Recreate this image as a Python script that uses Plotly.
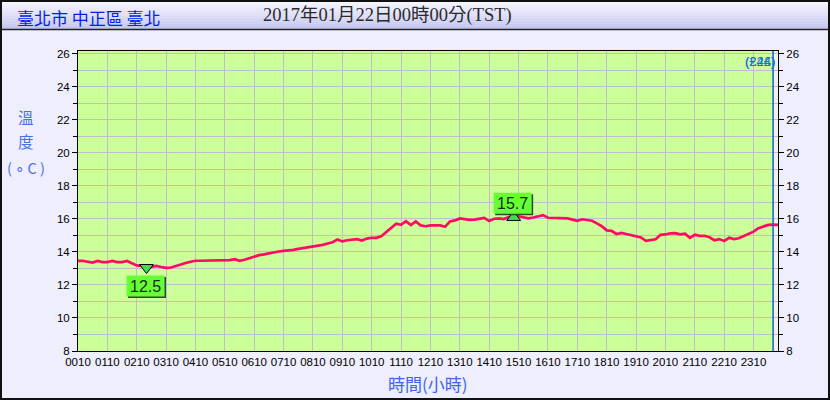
import plotly.graph_objects as go

# ---------------- data ----------------
station_title = "臺北市 中正區 臺北"
time_title = "2017年01月22日00時00分(TST)"
y_title_lines = ["溫", "度", "( ∘ C )"]
x_title = "時間(小時)"

# 10-minute observations 00:10 ... 24:00
minutes = list(range(10, 1441, 10))
temps = [
    13.45, 13.45, 13.40, 13.35, 13.45, 13.38,
    13.38, 13.45, 13.38, 13.38, 13.45, 13.30,
    13.18, 13.15, 13.05, 13.08, 13.15, 13.08,
    13.03, 13.05, 13.15, 13.25, 13.32, 13.40,
    13.46, 13.46, 13.46, 13.46, 13.46, 13.46,
    13.46, 13.50, 13.56, 13.46, 13.52, 13.62,
    13.70, 13.80, 13.85, 13.92, 13.96, 14.02,
    14.06, 14.08, 14.12, 14.18, 14.22, 14.28,
    14.32, 14.38, 14.42, 14.50, 14.58, 14.75,
    14.63, 14.70, 14.73, 14.77, 14.68, 14.80,
    14.85, 14.85, 14.95, 15.20, 15.45, 15.70,
    15.63, 15.85, 15.62, 15.84, 15.60, 15.55,
    15.60, 15.62, 15.60, 15.52, 15.84, 15.90,
    16.02, 15.98, 15.93, 15.95, 15.98, 16.05,
    15.86, 16.00, 16.02, 15.98, 16.10, 16.18,
    16.15, 16.08, 16.02, 16.08, 16.15, 16.22,
    16.06, 16.05, 16.05, 16.05, 16.02, 15.95,
    15.88, 15.97, 15.93, 15.88, 15.72, 15.55,
    15.30, 15.27, 15.08, 15.15, 15.08, 15.02,
    14.93, 14.87, 14.67, 14.73, 14.76, 15.03,
    15.05, 15.12, 15.13, 15.06, 15.10, 14.85,
    15.03, 14.97, 14.97, 14.88, 14.70, 14.77,
    14.65, 14.85, 14.77, 14.82, 14.95, 15.08,
    15.22, 15.43, 15.55, 15.63, 15.65, 15.63,
]
tick_labels = ["%02d10" % h for h in range(24)]
min_minute, min_label = 150, "12.5"   # 02:30
max_minute, max_label = 900, "15.7"   # 15:00
now_minute = 1430                     # 23:50 marker line
y_min, y_max = 8, 26.15

# ---------------- geometry helpers ----------------
W, H = 830, 400
L, R, T, B = 78, 778, 51, 351

def fx(p):
    return (p - L) / (R - L)

def fy(p):
    return (B - p) / (B - T)

hours = [m / 60 for m in minutes]
tickvals = [h + 1 / 6 for h in range(24)]

GRID = "#C2BCCC"
fig = go.Figure()

fig.add_trace(go.Scatter(x=hours, y=temps, mode="lines",
                         line=dict(color="#FF0A64", width=2.7),
                         hoverinfo="skip", showlegend=False))

imin = minutes.index(min_minute)
imax = minutes.index(max_minute)
fig.add_trace(go.Scatter(x=[hours[imin]], y=[temps[imin]], mode="markers",
                         marker=dict(symbol="triangle-down", size=12, color="#44DD44",
                                     line=dict(color="black", width=1)),
                         hoverinfo="skip", showlegend=False))
fig.add_trace(go.Scatter(x=[hours[imax]], y=[temps[imax] - 0.1], mode="markers",
                         marker=dict(symbol="triangle-up", size=12, color="#44DD44",
                                     line=dict(color="black", width=1)),
                         hoverinfo="skip", showlegend=False))
# invisible trace for right axis
fig.add_trace(go.Scatter(x=[hours[0]], y=[y_min], yaxis="y2", mode="markers",
                         marker=dict(opacity=0), hoverinfo="skip", showlegend=False))

shapes = []
# banner gradient
n = 15
top_c = (250, 250, 255)
bot_c = (196, 196, 240)
for i in range(n):
    t = i / (n - 1)
    c = tuple(int(top_c[k] + (bot_c[k] - top_c[k]) * t) for k in range(3))
    y0p = i * 29 / n
    y1p = (i + 1) * 29 / n
    shapes.append(dict(type="rect", xref="paper", yref="paper",
                       x0=fx(0), x1=fx(830), y0=fy(y1p), y1=fy(y0p),
                       fillcolor="rgb(%d,%d,%d)" % c, line=dict(width=0), layer="below"))
shapes.append(dict(type="line", xref="paper", yref="paper",
                   x0=fx(0), x1=fx(830), y0=fy(29.5), y1=fy(29.5),
                   line=dict(color="#222222", width=1.5)))
# outer border
shapes.append(dict(type="rect", xref="paper", yref="paper",
                   x0=fx(1), x1=fx(829), y0=fy(399), y1=fy(1),
                   line=dict(color="#111111", width=2)))
# right strip + "now" line
shapes.append(dict(type="rect", xref="x", yref="paper",
                   x0=now_minute / 60, x1=24, y0=0, y1=1,
                   fillcolor="#F0F0F0", line=dict(width=0), layer="below"))
shapes.append(dict(type="line", xref="x", yref="paper",
                   x0=now_minute / 60, x1=now_minute / 60, y0=0, y1=1,
                   line=dict(color="#1464C8", width=1.5)))

def label_box(xv, yv, x0, x1, y0, y1):
    shapes.append(dict(type="rect", xref="x", yref="y", xsizemode="pixel", ysizemode="pixel",
                       xanchor=xv, yanchor=yv, x0=x0 + 1.5, x1=x1 + 1.5, y0=y0 - 1.5, y1=y1 - 1.5,
                       fillcolor="#2E4A2E", line=dict(width=0)))
    shapes.append(dict(type="rect", xref="x", yref="y", xsizemode="pixel", ysizemode="pixel",
                       xanchor=xv, yanchor=yv, x0=x0, x1=x1, y0=y0, y1=y1,
                       fillcolor="#66FF33", line=dict(width=0)))

label_box(hours[imin], temps[imin], -20, 18, -29, -8)
label_box(hours[imax], temps[imax], -20, 18, 2, 23)

annotations = [
    dict(text=station_title, xref="paper", yref="paper", x=fx(15), y=fy(17),
         xanchor="left", yanchor="middle", showarrow=False,
         font=dict(family="Noto Sans CJK TC", size=17, color="#0022EE")),
    dict(text=time_title, xref="paper", yref="paper", x=fx(387), y=fy(16),
         xanchor="center", yanchor="middle", showarrow=False,
         font=dict(family="Liberation Serif, Noto Sans CJK TC", size=18.5, color="#2A2A2A")),
    dict(text=x_title, xref="paper", yref="paper", x=fx(428), y=fy(383),
         xanchor="center", yanchor="middle", showarrow=False,
         font=dict(family="Noto Sans CJK TC", size=17, color="#3F66E8")),
    dict(text=min_label, xref="x", yref="y", x=hours[imin], y=temps[imin],
         xshift=-1, yshift=-18.5, showarrow=False,
         font=dict(family="Liberation Sans, Arial", size=16, color="#1A2A1A")),
    dict(text=max_label, xref="x", yref="y", x=hours[imax], y=temps[imax],
         xshift=-1, yshift=12.5, showarrow=False,
         font=dict(family="Liberation Sans, Arial", size=16, color="#1A2A1A")),
    dict(text="(224)", xref="paper", yref="paper", x=fx(777), y=fy(61),
         xanchor="right", yanchor="middle", showarrow=False,
         font=dict(family="Liberation Sans", size=13, color="#1A6EE0")),
    dict(text="(£4£)", xref="paper", yref="paper", x=fx(777), y=fy(61),
         xanchor="right", yanchor="middle", showarrow=False,
         font=dict(family="Liberation Sans", size=13, color="#1A6EE0")),
]
for txt, yy, sz in zip(y_title_lines, [117, 141, 167], [15.5, 15.5, 14.5]):
    annotations.append(dict(text=txt, xref="paper", yref="paper", x=fx(26), y=fy(yy),
                            xanchor="center", yanchor="middle", showarrow=False,
                            font=dict(family="Noto Sans CJK TC", size=sz, color="#4A6EE8")))

tickfont = dict(family="Liberation Sans, Arial", size=11.5, color="black")
yax_common = dict(range=[y_min, y_max], tick0=8, dtick=2, ticks="outside", ticklen=5,
                  tickcolor="black", tickfont=tickfont, showline=True, linecolor="black",
                  linewidth=1, zeroline=False, fixedrange=True)

fig.update_layout(
    width=W, height=H,
    margin=dict(l=L, r=W - R, t=T, b=H - B),
    paper_bgcolor="#EEEEFC",
    plot_bgcolor="#CCFF99",
    showlegend=False,
    xaxis=dict(range=[1 / 6, 24], tickvals=tickvals, ticktext=tick_labels,
               showgrid=True, gridcolor=GRID, gridwidth=1, ticks="",
               showline=True, linecolor="black", linewidth=1, mirror=True,
               zeroline=False, tickfont=tickfont, fixedrange=True),
    yaxis=dict(**yax_common, showgrid=True, gridcolor=GRID, gridwidth=1,
               minor=dict(dtick=1, showgrid=True, gridcolor=GRID, ticks="outside",
                          ticklen=4, tickcolor="black")),
    yaxis2=dict(**yax_common, overlaying="y", side="right", showgrid=False,
                minor=dict(dtick=1, showgrid=False, ticks="outside", ticklen=4,
                           tickcolor="black")),
    shapes=shapes,
    annotations=annotations,
)

fig.write_html("out.html")
